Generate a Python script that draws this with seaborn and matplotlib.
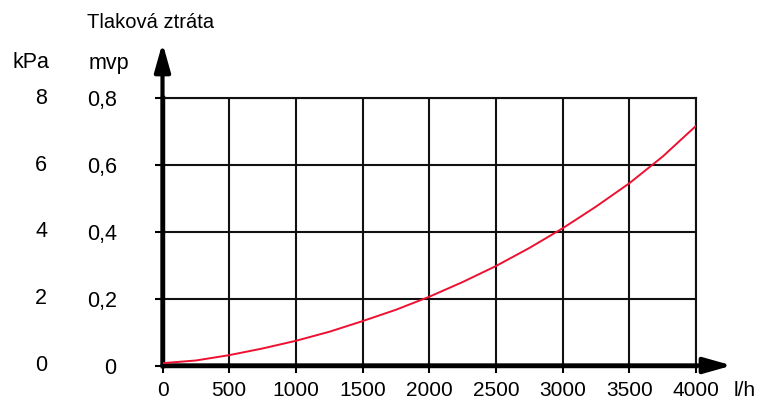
import matplotlib
matplotlib.use("Agg")
import matplotlib.pyplot as plt
import seaborn as sns
import pandas as pd

# Flow rate (l/h) and pressure loss (m water column)
flow = [0, 250, 500, 750, 1000, 1250, 1500, 1750, 2000,
        2250, 2500, 2750, 3000, 3250, 3500, 3750, 4000]
mvp = [0.007, 0.015, 0.031, 0.051, 0.074, 0.101, 0.133, 0.167, 0.206,
       0.250, 0.298, 0.352, 0.411, 0.476, 0.546, 0.626, 0.718]

x_ticks = [0, 500, 1000, 1500, 2000, 2500, 3000, 3500, 4000]
y_ticks = [0.0, 0.2, 0.4, 0.6, 0.8]
y_labels_mvp = ["0", "0,2", "0,4", "0,6", "0,8"]
y_labels_kpa = ["0", "2", "4", "6", "8"]

sns.set_theme(style="white")
plt.rcParams["font.family"] = ["Liberation Sans", "DejaVu Sans"]

W, H = 776, 403
fig = plt.figure(figsize=(W / 100, H / 100), dpi=100)
ax = fig.add_axes([162.5 / W, 1 - 365.5 / H, (696 - 162.5) / W, (365.5 - 98.5) / H])

df = pd.DataFrame({"flow": flow, "mvp": mvp})
sns.lineplot(data=df, x="flow", y="mvp", color="#ee1030", lw=1.4, ax=ax, zorder=5)

ax.set_xlim(0, 4000)
ax.set_ylim(0, 0.8)
ax.set_xticks(x_ticks)
ax.set_xticklabels([str(v) for v in x_ticks], fontsize=15, color="black")
ax.set_yticks(y_ticks)
ax.set_yticklabels(y_labels_mvp, fontsize=15.5, color="black")
ax.set_xlabel("")
ax.set_ylabel("")

ax.grid(True, color="#111111", lw=1.5)
ax.tick_params(axis="y", length=6, width=1.5, color="black", pad=27, direction="out", left=True)
ax.tick_params(axis="x", length=5, width=1.5, color="black", pad=6.5, direction="out", bottom=True)

for side in ("top", "right"):
    ax.spines[side].set_color("#111111")
    ax.spines[side].set_linewidth(1.5)
for side in ("left", "bottom"):
    ax.spines[side].set_color("black")
    ax.spines[side].set_linewidth(3.2)

# Axis arrows
arrow = dict(arrowstyle="-|>,head_length=0.85,head_width=0.24", lw=3.0, color="black",
             mutation_scale=20, shrinkA=0, shrinkB=0)
ax.annotate("", xy=(0, (365.5 - 43) / 267), xytext=(0, 0), xycoords="axes fraction",
            textcoords="axes fraction", arrowprops=arrow, annotation_clip=False)
ax.annotate("", xy=((732 - 162.5) / 533.5, 0), xytext=(0, 0), xycoords="axes fraction",
            textcoords="axes fraction", arrowprops=arrow, annotation_clip=False)

# kPa column next to the mvp tick labels
ytr = ax.get_yaxis_transform()
for yv, lab in zip(y_ticks, y_labels_kpa):
    ax.text((47 - 162.5) / 533.5, yv, lab, transform=ytr, ha="right", va="center",
            fontsize=15.5, color="black")

fig.text(31 / W, 1 - 68 / H, "kPa", ha="center", va="baseline", fontsize=15.5, color="black")
fig.text(109 / W, 1 - 69 / H, "mvp", ha="center", va="baseline", fontsize=15.5, color="black")
fig.text(87 / W, 1 - 28 / H, "Tlaková ztráta", ha="left", va="baseline", fontsize=14.5, color="black")
fig.text(745 / W, 1 - 396 / H, "l/h", ha="center", va="baseline", fontsize=15, color="black")

fig.savefig("out.png", dpi=100, facecolor="white")
